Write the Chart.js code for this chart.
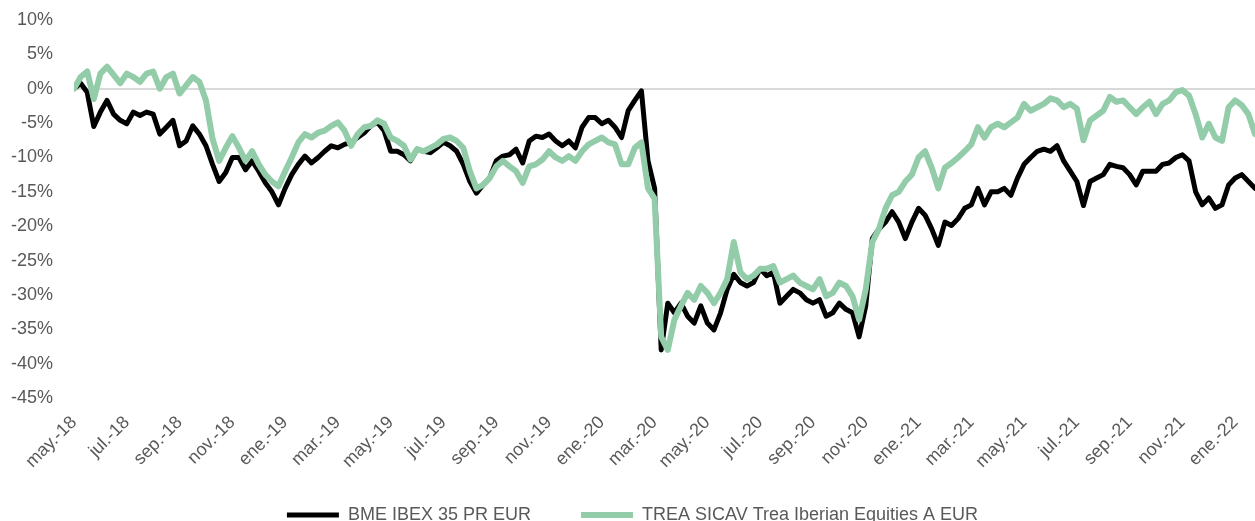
<!DOCTYPE html>
<html>
<head>
<meta charset="utf-8">
<script src="https://cdn.jsdelivr.net/npm/chart.js@4/dist/chart.umd.min.js"></script>
<style>
  html, body { margin: 0; padding: 0; background: #fff; overflow: hidden; }
</style>
</head>
<body>
<canvas id="myChart" width="1255" height="534"></canvas>
<script>
// roughly weekly samples (4 per month) starting may-2018, values in %
var monthsPerSample = 0.25;

var xTickLabels = ['may.-18', 'jul.-18', 'sep.-18', 'nov.-18', 'ene.-19', 'mar.-19', 'may.-19', 'jul.-19',
    'sep.-19', 'nov.-19', 'ene.-20', 'mar.-20', 'may.-20', 'jul.-20', 'sep.-20', 'nov.-20', 'ene.-21',
    'mar.-21', 'may.-21', 'jul.-21', 'sep.-21', 'nov.-21', 'ene.-22'];

var seriesNames = ['BME IBEX 35 PR EUR', 'TREA SICAV Trea Iberian Equities A EUR'];

var ibexValues = [
    0, 0.8, -0.5, -5.5, -3.4, -1.7, -3.7, -4.6, -5.1, -3.4,
    -3.9, -3.4, -3.7, -6.6, -5.6, -4.6, -8.3, -7.6, -5.4, -6.6,
    -8.3, -11.0, -13.5, -12.2, -10.0, -10.0, -11.8, -10.5, -12.0, -13.7,
    -15.0, -16.9, -14.5, -12.5, -11.0, -9.8, -10.8, -10.0, -9.1, -8.3,
    -8.6, -8.1, -7.8, -7.1, -6.4, -5.4, -4.9, -6.1, -9.1, -9.1,
    -9.6, -10.5, -8.8, -9.1, -9.3, -8.6, -7.8, -8.3, -9.1, -11.0,
    -13.5, -15.2, -14.0, -13.0, -10.5, -9.8, -9.6, -8.8, -10.8, -7.6,
    -6.9, -7.1, -6.6, -7.6, -8.3, -7.6, -8.6, -5.6, -4.2, -4.2,
    -5.1, -4.6, -5.6, -7.1, -3.2, -1.7, -0.3, -10.5, -14.5, -38.0,
    -31.2, -32.6, -31.2, -33.1, -34.1, -31.6, -34.1, -35.1, -32.6, -29.2,
    -27.0, -28.2, -28.7, -28.2, -26.2, -27.2, -26.7, -31.2, -30.2, -29.2,
    -29.7, -30.7, -31.2, -30.7, -33.1, -32.6, -31.2, -32.1, -32.6, -36.1,
    -31.6, -21.8, -20.4, -19.4, -17.9, -19.4, -21.8, -19.4, -17.4, -18.4,
    -20.4, -22.8, -19.4, -19.9, -18.9, -17.4, -16.9, -14.5, -16.9, -15.0,
    -15.0, -14.5, -15.5, -13.0, -11.0, -10.0, -9.1, -8.8, -9.1, -8.3,
    -10.5, -12.0, -13.5, -17.0, -13.5, -13.0, -12.5, -11.0, -11.3, -11.5,
    -12.5, -14.0, -12.0, -12.0, -12.0, -11.0, -10.8, -10.0, -9.6, -10.5,
    -15.0, -16.9, -15.9, -17.4, -16.9, -14.0, -13.0, -12.5, -13.5, -14.5
];

var treaValues = [
    0, 1.7, 2.5, -1.5, 2.2, 3.2, 2.0, 0.8, 2.2, 1.7,
    1.0, 2.2, 2.5, 0, 1.7, 2.2, -0.7, 0.5, 1.7, 1.0,
    -1.7, -7.3, -10.5, -8.6, -6.9, -8.6, -10.5, -9.1, -11.0, -12.5,
    -13.5, -14.2, -12.0, -10.0, -7.8, -6.6, -7.1, -6.4, -6.1, -5.4,
    -4.9, -6.1, -8.3, -6.6, -5.6, -5.4, -4.6, -5.1, -7.1, -7.6,
    -8.3, -10.3, -8.8, -9.1, -8.6, -8.1, -7.3, -7.1, -7.6, -8.6,
    -12.0, -14.5, -14.0, -13.0, -11.3, -10.5, -11.3, -12.0, -13.7, -11.3,
    -11.0, -10.3, -9.1, -10.0, -10.5, -9.8, -10.5, -9.1, -8.1, -7.6,
    -7.1, -7.8, -8.1, -11.0, -11.0, -8.6, -7.8, -14.5, -16.0, -36.1,
    -38.0, -33.6, -31.6, -29.7, -30.7, -28.7, -29.7, -31.2, -29.7, -27.7,
    -22.3, -26.7, -27.7, -27.2, -26.2, -26.2, -25.8, -28.2, -27.7, -27.2,
    -28.2, -28.7, -29.2, -27.7, -30.2, -29.7, -28.2, -28.7, -30.2, -33.6,
    -29.2, -22.3, -20.4, -17.4, -15.5, -15.0, -13.5, -12.5, -10.0, -9.1,
    -11.5, -14.5, -11.5, -10.8, -10.0, -9.1, -8.1, -5.6, -7.1, -5.6,
    -5.1, -5.6, -4.9, -4.2, -2.2, -3.2, -2.7, -2.2, -1.4, -1.7,
    -2.7, -2.2, -2.9, -7.5, -4.6, -3.9, -3.2, -1.2, -1.9, -1.7,
    -2.7, -3.7, -2.7, -1.9, -3.7, -2.2, -1.7, -0.5, -0.2, -1.0,
    -3.7, -7.1, -5.1, -7.1, -7.6, -2.7, -1.7, -2.4, -3.7, -6.6
];

function toPoints(values) {
    return values.map(function (v, i) {
        return { x: i * monthsPerSample, y: v };
    });
}

var font = { family: 'Liberation Sans, Arial, sans-serif', size: 18 };

// let the rotated month labels run below the axis box instead of being clipped
var labelRoom = {
    id: 'labelRoom',
    afterLayout: function (chart) {
        chart.scales.x.bottom = chart.height;
    }
};

var ctx = document.getElementById('myChart').getContext('2d');
var myChart = new Chart(ctx, {
    type: 'line',
    data: {
        datasets: [
            {
                label: seriesNames[0],
                data: toPoints(ibexValues),
                borderColor: '#000000',
                backgroundColor: '#000000',
                borderWidth: 5,
                borderCapStyle: 'round',
                borderJoinStyle: 'round',
                pointRadius: 0,
                order: 2
            },
            {
                label: seriesNames[1],
                data: toPoints(treaValues),
                borderColor: '#93cca9',
                backgroundColor: '#93cca9',
                borderWidth: 6,
                borderCapStyle: 'round',
                borderJoinStyle: 'round',
                pointRadius: 0,
                order: 1
            }
        ]
    },
    plugins: [labelRoom],
    options: {
        responsive: false,
        animation: false,
        devicePixelRatio: 1,
        layout: { padding: { left: 10, top: 20, right: 0, bottom: 0 } },
        scales: {
            x: {
                type: 'linear',
                min: 0,
                max: (ibexValues.length - 1) * monthsPerSample,
                grid: { display: false },
                border: { display: false },
                afterBuildTicks: function (scale) {
                    scale.ticks = xTickLabels.map(function (l, k) { return { value: k * 2 }; });
                },
                afterFit: function (scale) {
                    scale.height = 58;
                    scale.paddingLeft = 0;
                    scale.paddingRight = 0;
                },
                ticks: {
                    autoSkip: false,
                    minRotation: 45,
                    maxRotation: 45,
                    padding: 6,
                    color: '#595959',
                    font: font,
                    callback: function (v) { return xTickLabels[Math.round(v / 2)]; }
                }
            },
            y: {
                min: -45,
                max: 10,
                border: { display: false },
                grid: {
                    drawTicks: false,
                    lineWidth: 2,
                    color: function (c) { return c.tick && c.tick.value === 0 ? '#d9d9d9' : 'rgba(0,0,0,0)'; }
                },
                afterFit: function (scale) {
                    scale.width = 64;
                    scale.paddingTop = 0;
                    scale.paddingBottom = 0;
                },
                ticks: {
                    stepSize: 5,
                    padding: 21,
                    color: '#595959',
                    font: font,
                    callback: function (v) { return v + '%'; }
                }
            }
        },
        plugins: {
            tooltip: { enabled: false },
            legend: {
                position: 'bottom',
                labels: {
                    usePointStyle: true,
                    pointStyle: 'line',
                    pointStyleWidth: 52,
                    padding: 50,
                    color: '#595959',
                    font: font,
                    sort: function (a, b) { return a.datasetIndex - b.datasetIndex; }
                }
            }
        }
    }
});
</script>
</body>
</html>
